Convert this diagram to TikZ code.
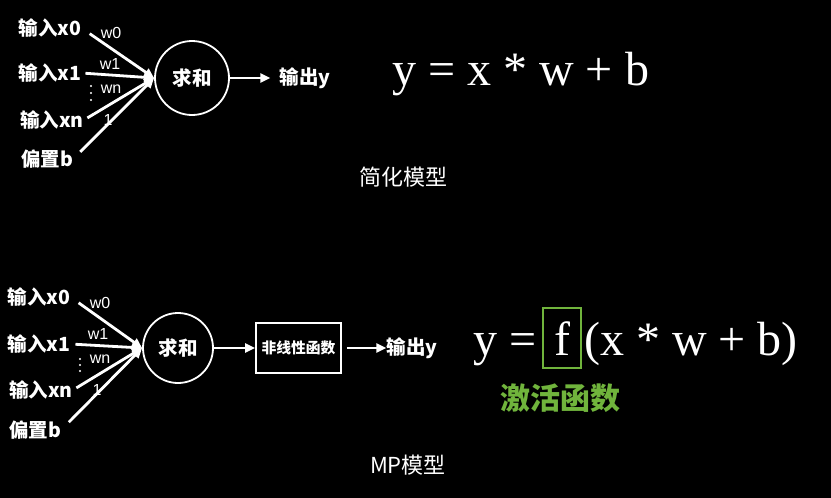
\documentclass[tikz,border=0pt]{standalone}
\usepackage{fontspec}
\setmainfont{Liberation Serif}
\newfontfamily\cjk{Noto Sans CJK SC}
\newfontfamily\lsans{Liberation Sans}
\usetikzlibrary{arrows.meta, positioning}
\definecolor{actgreen}{RGB}{112, 180, 60}
\newcommand{\fsz}[1]{\fontsize{#1}{#1}\selectfont}

\begin{document}
\begin{tikzpicture}[
  x=1pt, y=-1pt,
  lbl/.style={text=white, inner sep=0pt, font=\cjk\bfseries\fsz{19.5}},
  wlbl/.style={text=white, inner sep=0pt, font=\lsans\fsz{16}},
  captxt/.style={text=white, inner sep=0pt, font=\cjk\fsz{22}},
  wire/.style={white, line width=2.8pt, -{Triangle[length=10pt, width=9pt]}},
  sumnode/.style={circle, draw=white, line width=1.8pt, minimum size=74pt,
    inner sep=0pt, text=white, font=\cjk\bfseries\fsz{19.5}},
  formula/.style={text=white, inner sep=0pt, font=\fsz{48}}
]

%% ===== 背景 =====
\fill[black] (0,0) rectangle (831,498);
\useasboundingbox (0,0) rectangle (831,498);

%% ===== 上：简化模型 =====
\node[lbl] (a0) at (50, 28) {输入x0};
\node[lbl] (a1) at (50, 73) {输入x1};
\node[lbl] (an) at (52, 120) {输入xn};
\node[lbl] (ab) at (47, 159) {偏置b};

\node[sumnode] (asum) at (192, 78) {求和};
\node[lbl] (aout) at (305, 78) {输出y};

%% 权重标注
\node[wlbl] (aw0) at (111, 33) {w0};
\node[wlbl] (aw1) at (110, 64) {w1};
\node[wlbl] (awn) at (111, 89) {wn};
\node[wlbl] (awb) at (108, 120) {1};
\foreach \y in {86, 93, 100} \fill[white] (91, \y) circle (1.2pt);

\draw[wire, shorten <=10pt] (a0.east) -- (asum.west);
\draw[wire, shorten <=4pt] (a1.east) -- (asum.west);
\draw[wire, shorten <=4pt] (an.east) -- (asum.west);
\draw[wire, shorten <=10pt] (ab.east) -- (asum.west);
\draw[wire, shorten >=9pt] (asum.east) -- (aout.west);

%% 公式
\node[formula, anchor=base west] (aeq) at (392, 85) {y = x * w + b};
\node[captxt] (acap) at (403, 177) {简化模型};

%% ===== 下：MP 模型 =====
\node[lbl] (b0) at (39, 297) {输入x0};
\node[lbl] (b1) at (39, 344) {输入x1};
\node[lbl] (bn) at (41, 390) {输入xn};
\node[lbl] (bb) at (35, 430) {偏置b};

\node[sumnode, minimum size=70pt] (bsum) at (178, 348) {求和};
\node[draw=white, line width=1.8pt, minimum width=85pt, minimum height=50pt,
  inner sep=0pt, text=white, font=\cjk\bfseries\fsz{14.8}] (bact) at (298.5, 348) {非线性函数};
\node[lbl] (bout) at (412, 348) {输出y};

%% 权重标注
\node[wlbl] (bw0) at (100, 303) {w0};
\node[wlbl] (bw1) at (98, 334) {w1};
\node[wlbl] (bwn) at (100, 359) {wn};
\node[wlbl] (bwb) at (97, 390) {1};
\foreach \y in {359, 365, 371} \fill[white] (80, \y) circle (1.2pt);

\draw[wire, shorten <=10pt] (b0.east) -- (bsum.west);
\draw[wire, shorten <=5pt] (b1.east) -- (bsum.west);
\draw[wire, shorten <=4pt] (bn.east) -- (bsum.west);
\draw[wire, shorten <=11pt] (bb.east) -- (bsum.west);
\draw[wire] (bsum.east) -- (bact.west);
\draw[wire, shorten <=5pt] (bact.east) -- (bout.west);

%% 公式：f 加绿框
\node[formula, draw=actgreen, line width=1.8pt, minimum width=38pt,
  minimum height=60pt, anchor=base] (bf) at (562, 355) {f};
\node[formula, anchor=base east] (beq) at ([xshift=-5pt]bf.base west) {y =};
\node[formula, anchor=base west] (brest) at ([xshift=2pt]bf.base east) {(x * w + b)};
\node[text=actgreen, inner sep=0pt, font=\cjk\bfseries\fsz{30}] (bname) at (560, 398) {激活函数};
\node[captxt] (bcap) at (408, 465) {MP模型};

\end{tikzpicture}
\end{document}
